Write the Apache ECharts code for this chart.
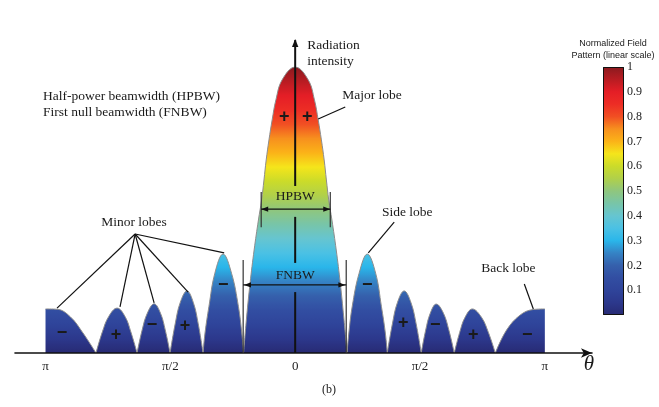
<!DOCTYPE html>
<html>
<head>
<meta charset="utf-8">
<script src="https://cdn.jsdelivr.net/npm/echarts@6/dist/echarts.min.js"></script>
<style>
html, body { margin: 0; padding: 0; background: #fff; }
#main { width: 659px; height: 407px; }
</style>
</head>
<body>
<div id="main"></div>
<script>
// each lobe: [theta in degrees, normalized field]
var backLeft  = [[-180, 0.154], [-171.7, 0.153], [-162, 0.126], [-153, 0.07], [-143.6, 0]];
var minorL4   = [[-143.6, 0], [-139, 0.074], [-134.5, 0.127], [-128.4, 0.157], [-122.6, 0.127], [-118.5, 0.074], [-114, 0]];
var minorL3   = [[-114, 0], [-110.3, 0.081], [-106.6, 0.139], [-101.7, 0.172], [-97.1, 0.139], [-93.7, 0.081], [-90.2, 0]];
var minorL2   = [[-90.2, 0], [-86.5, 0.102], [-82.9, 0.176], [-78, 0.217], [-73.4, 0.176], [-69.9, 0.102], [-66.4, 0]];
var sideLeft  = [[-66.4, 0], [-65, 0.07], [-62.2, 0.162], [-57.9, 0.279], [-52, 0.346], [-45.9, 0.279], [-40.9, 0.162], [-38.5, 0.07], [-37.2, 0]];
var majorLobe = [[-37.2, 0], [-35, 0.126], [-32.5, 0.245], [-29.6, 0.36], [-26.5, 0.465], [-24.2, 0.535],
                 [-22.5, 0.605], [-20.9, 0.675], [-18.9, 0.745], [-16.6, 0.815], [-13.9, 0.885], [-9.4, 0.955],
                 [0, 1], [9.4, 0.955], [13.9, 0.885], [16.6, 0.815], [18.9, 0.745], [20.9, 0.675], [22.5, 0.605],
                 [24.2, 0.535], [26.5, 0.465], [29.6, 0.36], [32.5, 0.245], [35, 0.126], [37.4, 0]];
var sideRight = [[37.4, 0], [38.7, 0.07], [41.1, 0.162], [46.1, 0.279], [52, 0.346], [58, 0.279], [62.2, 0.162], [65, 0.07], [66.4, 0]];
var minorR2   = [[66.4, 0], [70.1, 0.102], [73.7, 0.176], [78.6, 0.217], [83.5, 0.176], [87.2, 0.102], [90.9, 0]];
var minorR3   = [[90.9, 0], [94.1, 0.08], [97.4, 0.139], [101.7, 0.171], [106.9, 0.139], [110.8, 0.08], [114.7, 0]];
var minorR4   = [[114.7, 0], [118.6, 0.072], [122.5, 0.125], [127.7, 0.154], [134.3, 0.125], [139.3, 0.072], [144.3, 0]];
var backRight = [[144.3, 0], [152.4, 0.08], [162.3, 0.133], [171.7, 0.152], [180, 0.154]];

var lobes = [backLeft, minorL4, minorL3, minorL2, sideLeft, majorLobe,
             sideRight, minorR2, minorR3, minorR4, backRight];

var tickValues = [-180, -90, 0, 90, 180];
var tickLabels = ['π', 'π/2', '0', 'π/2', 'π'];

// colour scale, 0 -> 1 in steps of 0.05
var jetColors = ['#272a73', '#2c388c', '#2f449a', '#324ea2', '#3560ac', '#3583c5', '#2ab6ea',
                 '#4bc1e4', '#66c5d0', '#78c5a8', '#8fc67e', '#b0d04a', '#cbdb2a', '#f5e51b',
                 '#fbb318', '#f7901e', '#f14f23', '#ed2d25', '#e41e26', '#b81c22', '#8b1a1f'];

// lobe signs [theta, field, sign]
var signs = [[-168.1, 0.07, '−'], [-129.1, 0.063, '+'], [-103.2, 0.098, '−'], [-79.4, 0.094, '+'],
             [-51.9, 0.238, '−'], [-7.9, 0.825, '+'], [8.7, 0.825, '+'], [51.9, 0.238, '−'],
             [77.9, 0.105, '+'], [101, 0.098, '−'], [128.4, 0.063, '+'], [167.4, 0.063, '−']];

var minorHub = [-115.4, 0.416];
var minorTargets = [[-171.7, 0.157], [-126.3, 0.161], [-101.7, 0.175], [-77.2, 0.213], [-51.2, 0.35]];

function main() {
  var serif = '"Liberation Serif", "Times New Roman", serif';
  var chart = echarts.init(document.getElementById('main'));

  var stops = jetColors.map(function (c, i) {
    return { offset: i / (jetColors.length - 1), color: c };
  });

  var series = lobes.map(function (d) {
    return {
      type: 'line', xAxisIndex: 0, yAxisIndex: 0, data: d,
      smooth: 0.4, showSymbol: false, silent: true, z: 2,
      lineStyle: { color: '#8d8d8d', width: 1 },
      areaStyle: { opacity: 1 }
    };
  });
  series.push({
    type: 'bar', xAxisIndex: 1, yAxisIndex: 1, data: [1], barWidth: '100%', silent: true,
    itemStyle: {
      color: new echarts.graphic.LinearGradient(0, 1, 0, 0, stops),
      borderColor: '#111', borderWidth: 1
    }
  });

  var option = {
    animation: false,
    backgroundColor: '#fff',
    grid: [
      { left: 15, top: 67, width: 577, height: 286 },
      { left: 603, top: 67, width: 21, height: 248 }
    ],
    xAxis: [{
      gridIndex: 0, type: 'value', min: -202, max: 214, z: 5,
      axisLine: { lineStyle: { color: '#111', width: 1.6 }, symbol: ['none', 'arrow'], symbolSize: [7, 11] },
      axisTick: { show: false },
      splitLine: { show: false },
      axisLabel: {
        customValues: tickValues,
        formatter: function (v) {
          var i = tickValues.indexOf(v);
          return i < 0 ? '' : tickLabels[i];
        },
        fontFamily: serif, fontSize: 13, color: '#222', margin: 7
      }
    }, {
      gridIndex: 1, type: 'category', data: [''], show: false
    }],
    yAxis: [{
      gridIndex: 0, type: 'value', min: 0, max: 1, show: false
    }, {
      gridIndex: 1, type: 'value', min: 0, max: 1, interval: 0.1, position: 'right', z: 5,
      axisLine: { show: false },
      splitLine: { show: false },
      axisTick: { inside: true, length: 3, lineStyle: { color: '#111' } },
      axisLabel: {
        formatter: function (v) { return v === 0 ? '' : String(Math.round(v * 10) / 10); },
        fontFamily: serif, fontSize: 12, color: '#222', margin: 3
      }
    }, {
      gridIndex: 1, type: 'value', min: 0, max: 1, interval: 0.1, position: 'left', z: 5,
      axisLine: { show: false },
      splitLine: { show: false },
      axisTick: { inside: true, length: 3, lineStyle: { color: '#111' } },
      axisLabel: { show: false }
    }],
    visualMap: {
      type: 'continuous', show: false, dimension: 1, min: 0, max: 1,
      seriesIndex: lobes.map(function (d, i) { return i; }),
      inRange: { color: jetColors }
    },
    series: series
  };

  chart.setOption(option);

  // annotations
  function p(t, a) { return chart.convertToPixel({ gridIndex: 0 }, [t, a]); }
  function text(xy, s, font, align) {
    return { type: 'text', x: xy[0], y: xy[1], z: 10, silent: true,
      style: { text: s, font: font, fill: '#1a1a1a', align: align || 'center', verticalAlign: 'middle' } };
  }
  function line(a, b, w, c) {
    return { type: 'line', z: 10, silent: true,
      shape: { x1: a[0], y1: a[1], x2: b[0], y2: b[1] },
      style: { stroke: c || '#111', lineWidth: w || 1.2 } };
  }
  function head(tip, dx, dy, len, wid) {
    var nx = -dy, ny = dx;
    return { type: 'polygon', z: 10, silent: true,
      shape: { points: [tip,
        [tip[0] - dx * len + nx * wid, tip[1] - dy * len + ny * wid],
        [tip[0] - dx * len - nx * wid, tip[1] - dy * len - ny * wid]] },
      style: { fill: '#111' } };
  }

  var f13 = '13.5px ' + serif;
  var g = [];

  // radiation intensity axis
  var segs = [[1.094, 0.584], [0.476, 0.315], [0.213, 0]];
  segs.forEach(function (s) { g.push(line(p(0, s[0]), p(0, s[1]), 2)); });
  g.push(head(p(0, 1.094 + 0.004), 0, -1, 8, 3.2));
  g.push(text([p(8.7, 0)[0], p(0, 1.077)[1]], 'Radiation', f13, 'left'));
  g.push(text([p(8.7, 0)[0], p(0, 1.021)[1]], 'intensity', f13, 'left'));

  // HPBW
  var hl = -24.5, hr = 25.3;
  g.push(line(p(hl, 0.563), p(hl, 0.44), 1.2, '#333'));
  g.push(line(p(hr, 0.563), p(hr, 0.44), 1.2, '#333'));
  g.push(line(p(hl, 0.503), p(hr, 0.503), 1.3));
  g.push(head(p(hl, 0.503), -1, 0, 7, 2.6));
  g.push(head(p(hr, 0.503), 1, 0, 7, 2.6));
  g.push(text(p(0, 0.548), 'HPBW', f13));

  // FNBW
  var fl = -37.5, fr = 36.8;
  g.push(line(p(fl, 0.325), p(fl, 0), 1.2, '#333'));
  g.push(line(p(fr, 0.325), p(fr, 0), 1.2, '#333'));
  g.push(line(p(fl, 0.238), p(fr, 0.238), 1.3));
  g.push(head(p(fl + 0.6, 0.238), -1, 0, 7, 2.6));
  g.push(head(p(fr - 0.6, 0.238), 1, 0, 7, 2.6));
  g.push(text(p(0, 0.272), 'FNBW', f13));

  // lobe labels
  g.push(text(p(33.9, 0.902), 'Major lobe', f13, 'left'));
  g.push(line(p(36.1, 0.86), p(16.6, 0.818)));
  g.push(text(p(-116.2, 0.458), 'Minor lobes', f13));
  minorTargets.forEach(function (t) { g.push(line(p(minorHub[0], minorHub[1]), p(t[0], t[1]))); });
  g.push(text(p(80.8, 0.49), 'Side lobe', f13));
  g.push(line(p(71.4, 0.458), p(52.7, 0.35)));
  g.push(text(p(153.7, 0.297), 'Back lobe', f13));
  g.push(line(p(165.2, 0.241), p(171.7, 0.154)));

  signs.forEach(function (s) {
    g.push(text(p(s[0], s[1]), s[2], 'bold 18px "Liberation Sans", Arial, sans-serif'));
  });

  // free text
  g.push(text([43, 96], 'Half-power beamwidth (HPBW)', f13, 'left'));
  g.push(text([43, 112], 'First null beamwidth (FNBW)', f13, 'left'));
  g.push(text([613, 44], 'Normalized Field', '9px "Liberation Sans", Arial, sans-serif'));
  g.push(text([613, 56], 'Pattern (linear scale)', '9px "Liberation Sans", Arial, sans-serif'));
  g.push(text([589, 364], 'θ', 'italic 21px ' + serif));
  g.push(text([329, 390], '(b)', '12px ' + serif));

  chart.setOption({ graphic: g });
}
main();
</script>
</body>
</html>
